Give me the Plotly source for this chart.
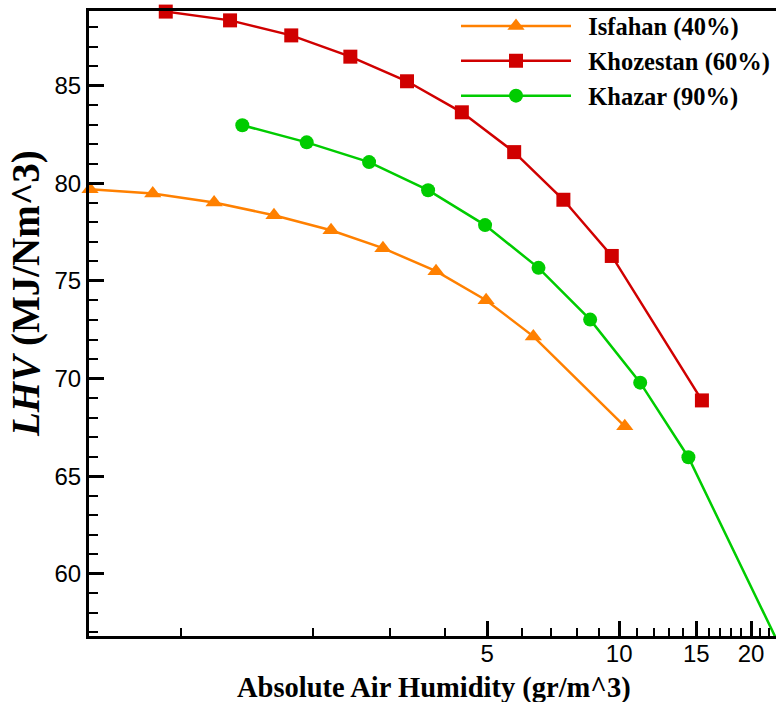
import plotly.graph_objects as go

# Data
isfahan_x = [0.62, 0.862, 1.19, 1.63, 2.20, 2.89, 3.82, 4.97, 6.37, 10.3]
isfahan_y = [79.70, 79.48, 79.02, 78.37, 77.60, 76.68, 75.50, 74.01, 72.16, 67.55]

khozestan_x = [0.923, 1.294, 1.785, 2.435, 3.28, 4.375, 5.76, 7.46, 9.62, 15.45]
khozestan_y = [88.8, 88.35, 87.58, 86.49, 85.23, 83.64, 81.60, 79.16, 76.28, 68.88]

khazar_x = [1.38, 1.936, 2.687, 3.664, 4.943, 6.545, 8.586, 11.17, 14.39, 22.9]
khazar_y = [82.98, 82.10, 81.09, 79.65, 77.86, 75.67, 73.02, 69.79, 65.97, 56.6]

x_tickvals = [5, 10, 15, 20]
x_minorvals = [1, 2, 3, 4, 6, 7, 8, 9, 11, 12, 13, 14, 16, 17, 18, 19, 21, 22]
y_tickvals = [60, 65, 70, 75, 80, 85]

names = ["Isfahan (40%)", "Khozestan (60%)", "Khazar (90%)"]
colors = ["#FF8000", "#D00000", "#00CC00"]

fig = go.Figure()
series = [(isfahan_x, isfahan_y, "triangle-up", 15),
          (khozestan_x, khozestan_y, "square", 14),
          (khazar_x, khazar_y, "circle", 14)]
for (xs, ys, sym, sz), name, col in zip(series, names, colors):
    fig.add_trace(go.Scatter(
        x=xs, y=ys, mode="lines+markers", name="\u00a0\u00a0" + name,
        line=dict(color=col, width=2.5),
        marker=dict(symbol=sym, size=sz, color=col),
        cliponaxis=False,
    ))

fig.update_layout(
    width=776, height=702,
    margin=dict(l=89, r=0, t=11, b=66),
    paper_bgcolor="white", plot_bgcolor="white",
    showlegend=True,
    legend=dict(
        x=(456 - 89) / 687, y=1.012, xanchor="left", yanchor="top",
        font=dict(family="Liberation Serif", size=24.5, color="black", weight="bold"),
        itemwidth=110, tracegroupgap=0, bgcolor="rgba(0,0,0,0)",
    ),
)

fig.update_xaxes(
    type="log", range=[-0.210, 1.358],
    tickmode="array", tickvals=x_tickvals, ticktext=[str(v) for v in x_tickvals],
    ticks="inside", ticklen=15, tickwidth=3, tickcolor="black",
    showline=True, linewidth=3, linecolor="black", mirror=True,
    showgrid=False, zeroline=False, ticklabelstandoff=-6,
    tickfont=dict(family="Liberation Sans", size=24, color="black"),
    minor=dict(tickmode="array", tickvals=x_minorvals, ticks="inside",
               ticklen=8, tickwidth=1.5, tickcolor="black", showgrid=False),
)
fig.update_yaxes(
    range=[56.81, 88.83],
    tickmode="array", tickvals=y_tickvals,
    ticks="inside", ticklen=15, tickwidth=3, tickcolor="black",
    showline=True, linewidth=3, linecolor="black",
    showgrid=False, zeroline=False,
    tickfont=dict(family="Liberation Sans", size=24, color="black"),
    minor=dict(dtick=1, ticks="inside", ticklen=9, tickwidth=1.5,
               tickcolor="black", showgrid=False),
)

fig.add_annotation(
    text="Absolute Air Humidity (gr/m^3)", xref="paper", yref="paper",
    x=(434 - 89) / 687, y=-(688 - 636) / 625,
    xanchor="center", yanchor="middle", showarrow=False,
    font=dict(family="Liberation Serif", size=28.5, color="black", weight="bold"),
)
fig.add_annotation(
    text="<i>LHV</i> (MJ/Nm^3)", xref="paper", yref="paper",
    x=-(89 - 26) / 687, y=(636 - 294) / 625,
    xanchor="center", yanchor="middle", showarrow=False, textangle=-90,
    font=dict(family="Liberation Serif", size=39, color="black", weight="bold"),
)

fig.write_html("out.html")
